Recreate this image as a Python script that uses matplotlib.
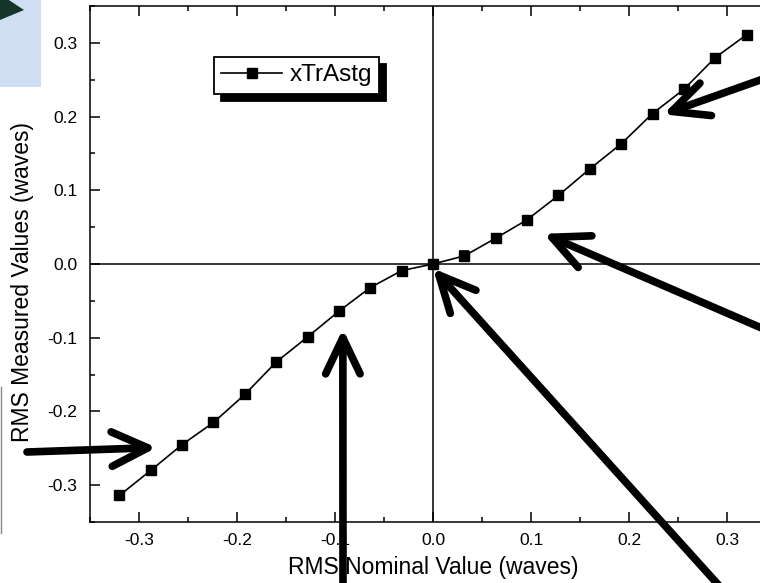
import matplotlib.pyplot as plt
from matplotlib.patches import Rectangle, Polygon
from matplotlib.lines import Line2D
from matplotlib.ticker import MultipleLocator

plt.rcParams['font.family'] = ['Liberation Sans', 'DejaVu Sans']

nominal = [-0.32, -0.288, -0.256, -0.224, -0.192, -0.16, -0.128, -0.096, -0.064, -0.032,
           0.0, 0.032, 0.064, 0.096, 0.128, 0.16, 0.192, 0.224, 0.256, 0.288, 0.32]
measured = [-0.314, -0.280, -0.245, -0.215, -0.177, -0.133, -0.099, -0.064, -0.032, -0.009,
            0.0, 0.011, 0.035, 0.060, 0.093, 0.129, 0.163, 0.204, 0.237, 0.280, 0.311]
errors = [0.005, 0.005, 0.005, 0.004, 0.005, 0.004, 0.004, 0.005, 0.005, 0.004,
          0.004, 0.006, 0.005, 0.004, 0.005, 0.004, 0.005, 0.004, 0.005, 0.005, 0.005]
series_name = "xTrAstg"

W, H = 760, 583
fig = plt.figure(figsize=(W / 100, H / 100), dpi=100)
ax = fig.add_axes([90 / W, 61 / H, 686 / W, 516 / H])

ax.errorbar(nominal, measured, yerr=errors, fmt='none', ecolor='black',
            capsize=3.5, elinewidth=1.2, capthick=1.2, zorder=3)
ax.plot(nominal, measured, color='black', lw=1.2, marker='s', markersize=7.5,
        label=series_name, zorder=4)
ax.axhline(0, color='black', lw=1.1, zorder=1)
ax.axvline(0, color='black', lw=1.1, zorder=1)

ax.set_xlim(-0.35, 0.35)
ax.set_ylim(-0.35, 0.35)
ax.xaxis.set_major_locator(MultipleLocator(0.1))
ax.xaxis.set_minor_locator(MultipleLocator(0.05))
ax.yaxis.set_major_locator(MultipleLocator(0.1))
ax.yaxis.set_minor_locator(MultipleLocator(0.05))
ax.xaxis.set_major_formatter(plt.FormatStrFormatter('%.1f'))
ax.yaxis.set_major_formatter(plt.FormatStrFormatter('%.1f'))
ax.tick_params(which='both', direction='in', top=True, right=True, width=1.1, labelsize=12.5)
ax.tick_params(which='major', length=7)
ax.tick_params(which='minor', length=3.8)
ax.tick_params(axis='y', pad=9)
ax.tick_params(axis='x', pad=8)
for s in ax.spines.values():
    s.set_linewidth(1.1)

ax.set_xlabel("RMS Nominal Value (waves)", fontsize=16.5)
ax.set_ylabel("RMS Measured Values (waves)", fontsize=16.5)
ax.xaxis.set_label_coords(0.5, -0.066)
ax.yaxis.set_label_coords(-0.081, 0.466)

leg = ax.legend(loc='upper left', bbox_to_anchor=(214 / W, 1 - 57 / H), bbox_transform=fig.transFigure,
                borderaxespad=0, fontsize=17.5, fancybox=False, framealpha=1, edgecolor='black',
                handlelength=2.5, handletextpad=0.3, borderpad=0.3, markerscale=1.0,
                shadow={'ox': 5, 'oy': -5, 'facecolor': 'black', 'edgecolor': 'black', 'alpha': 1})
leg.get_frame().set_linewidth(1.3)

# overlaid annotation arrows: tip on the curve, tail in figure pixels
arrows = [((0.235, 0.203), (780, 510)),
          ((0.113, 0.041), (780, 247)),
          ((0.0, -0.006), (732, -17)),
          ((-0.092, -0.088), (343, -17)),
          ((-0.282, -0.249), (27, 131))]
for tip, tail in arrows:
    ax.annotate('', xy=tip, xycoords='data', xytext=tail, textcoords='figure pixels',
                arrowprops=dict(arrowstyle='->,head_length=1.3,head_width=0.62', lw=5.5,
                                color='black', shrinkA=0, shrinkB=0, mutation_scale=20,
                                capstyle='round', joinstyle='round'),
                annotation_clip=False, zorder=5)

# slide decorations at the left edge
fig.add_artist(Rectangle((0, 1 - 87 / H), 41 / W, 87 / H, transform=fig.transFigure,
                         facecolor='#cfdef2', edgecolor='none'))
fig.add_artist(Polygon([(0, 1.01), (24 / W, 1 - 10 / H), (0, 1 - 20 / H)], closed=True,
                       transform=fig.transFigure, facecolor='#15342b', edgecolor='none'))
fig.add_artist(Line2D([1 / W, 1 / W], [1 - 533 / H, 1 - 387 / H], transform=fig.transFigure,
                      color='#888888', lw=1))

fig.savefig('out.png', dpi=100)
